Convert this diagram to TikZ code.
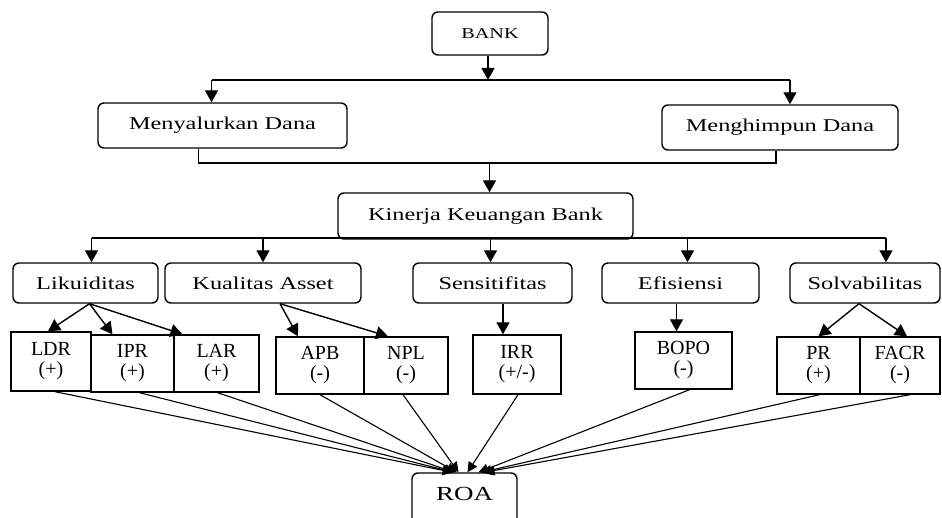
\documentclass[tikz,border=0pt]{standalone}
\usepackage{fontspec}
\setmainfont{Liberation Serif}
\newfontfamily\widefont{Liberation Serif}[FakeStretch=1.35]
\usetikzlibrary{arrows.meta}

\begin{document}
\begin{tikzpicture}[x=1pt,y=-1pt,
		rbox/.style={draw,rounded corners=6pt,line width=1.4pt,inner sep=0pt,font=\widefont\fontsize{18}{22}\selectfont},
		ibox/.style={draw,line width=1.4pt,inner sep=0pt,align=center,font=\fontsize{20}{20}\selectfont},
		arr/.style={-{Triangle[length=12pt,width=13pt]},line width=1.4pt},
		roaarr/.style={-{Triangle[length=10pt,width=10pt]},line width=1.1pt}]
			
			\useasboundingbox (0,0) rectangle (942,518);
			\clip (0,0) rectangle (942,518);
			
			% top
			\node[rbox,minimum width=116,minimum height=43,font=\widefont\fontsize{15}{18}\selectfont] (bank) at (490,33.5) {BANK};
			\node[rbox,minimum width=249,minimum height=45] (salur) at (222.5,125.5) {Menyalurkan Dana};
			\node[rbox,minimum width=236,minimum height=45] (himpun) at (780,127.5) {Menghimpun Dana};
			\node[rbox,minimum width=295,minimum height=46] (kinerja) at (485.5,216) {Kinerja Keuangan Bank};
			
			\coordinate (bar1) at (0,80);
			\coordinate (bar2) at (0,163);
			\coordinate (bar3) at (0,238);
			
			\draw[arr] ([xshift=-2]bank.south) -- ([xshift=-2]bank.south |- bar1);
			\draw[line width=1.4pt] ([xshift=-11]salur.north |- bar1) -- ([xshift=10]himpun.north |- bar1);
			\draw[arr] ([xshift=-11]salur.north |- bar1) -- ([xshift=-11]salur.north);
			\draw[arr] ([xshift=10]himpun.north |- bar1) -- ([xshift=10]himpun.north);
			
			\draw[line width=1.4pt] ([xshift=-24]salur.south) -- ([xshift=-24]salur.south |- bar2) -- ([xshift=-4]himpun.south |- bar2) -- ([xshift=-4]himpun.south);
			\draw[arr] ([xshift=4]kinerja.north |- bar2) -- ([xshift=4]kinerja.north);
			
			% aspek kinerja
			\node[rbox,minimum width=145,minimum height=40] (likuid) at (85.5,283) {Likuiditas};
			\node[rbox,minimum width=196,minimum height=40] (kualitas) at (263,283) {Kualitas Asset};
			\node[rbox,minimum width=159,minimum height=40] (sensitif) at (492.5,283) {Sensitifitas};
			\node[rbox,minimum width=157,minimum height=40] (efisien) at (680.5,283) {Efisiensi};
			\node[rbox,minimum width=150,minimum height=40] (solva) at (865,283) {Solvabilitas};
			
			\draw[line width=1.4pt] ([xshift=6]likuid.north |- bar3) -- ([xshift=21]solva.north |- bar3);
			\draw[arr] ([xshift=6]likuid.north |- bar3) -- ([xshift=6]likuid.north);
			\draw[arr] (kualitas.north |- bar3) -- (kualitas.north);
			\draw[arr] ([xshift=-2]sensitif.north |- bar3) -- ([xshift=-2]sensitif.north);
			\draw[arr] ([xshift=7]efisien.north |- bar3) -- ([xshift=7]efisien.north);
			\draw[arr] ([xshift=21]solva.north |- bar3) -- ([xshift=21]solva.north);
			
			% rasio
			\node[ibox,minimum width=80,minimum height=59] (ldr) at (51,361.5) {LDR\\(+)};
			\node[ibox,minimum width=83,minimum height=57] (ipr) at (132.5,363.5) {IPR\\(+)};
			\node[ibox,minimum width=85,minimum height=57] (lar) at (216.5,363.5) {LAR\\(+)};
			\node[ibox,minimum width=88,minimum height=57] (apb) at (320,365.5) {APB\\(-)};
			\node[ibox,minimum width=84,minimum height=57] (npl) at (406,365.5) {NPL\\(-)};
			\node[ibox,minimum width=88,minimum height=59] (irr) at (517,364.5) {IRR\\(+/-)};
			\node[ibox,minimum width=97,minimum height=57] (bopo) at (683.5,360.5) {BOPO\\(-)};
			\node[ibox,minimum width=83,minimum height=57] (pr) at (818.5,365.5) {PR\\(+)};
			\node[ibox,minimum width=80,minimum height=57] (facr) at (900,365.5) {FACR\\(-)};
			
			\draw[arr] ([xshift=4]likuid.south) -- ([xshift=-3]ldr.north);
			\draw[arr] ([xshift=4]likuid.south) -- ([xshift=-20]ipr.north);
			\draw[arr] ([xshift=4]likuid.south) -- ([xshift=-34]lar.north);
			\draw[arr] ([xshift=17]kualitas.south) -- ([xshift=-22]apb.north);
			\draw[arr] ([xshift=17]kualitas.south) -- ([xshift=-18]npl.north);
			\draw[arr] ([xshift=-14]irr.north |- sensitif.south) -- ([xshift=-14]irr.north);
			\draw[arr] ([xshift=-7]bopo.north |- efisien.south) -- ([xshift=-7]bopo.north);
			\draw[arr] ([xshift=-6]solva.south) -- (pr.north);
			\draw[arr] ([xshift=-6]solva.south) -- ([xshift=7]facr.north);
			
			% ROA
			\node[rbox,minimum width=105,minimum height=54,text height=14pt,text depth=13pt,font=\widefont\fontsize{20}{24}\selectfont] (roa) at (464.5,500) {ROA};
			
			\draw[roaarr] ([xshift=4]ldr.south) -- ([xshift=-12]roa.north);
			\draw[roaarr] ([xshift=7]ipr.south) -- ([xshift=-11]roa.north);
			\draw[roaarr] ([xshift=1]lar.south) -- ([xshift=-10]roa.north);
			\draw[roaarr] (apb.south) -- ([xshift=-8]roa.north);
			\draw[roaarr] ([xshift=-3]npl.south) -- ([xshift=-6]roa.north);
			\draw[roaarr] ([xshift=1]irr.south) -- ([xshift=3]roa.north);
			\draw[roaarr] ([xshift=6]bopo.south) -- ([xshift=14]roa.north);
			\draw[roaarr] ([xshift=1]pr.south) -- ([xshift=17]roa.north);
			\draw[roaarr] ([xshift=10]facr.south) -- ([xshift=20]roa.north);
			
		\end{tikzpicture}
\end{document}
